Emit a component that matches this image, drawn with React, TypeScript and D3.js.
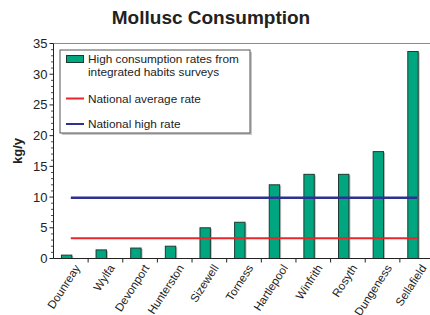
import React from "react";
import * as d3 from "d3";

const categories = ["Dounreay", "Wylfa", "Devonport", "Hunterston", "Sizewell", "Torness", "Hartlepool", "Winfrith", "Rosyth", "Dungeness", "Sellafield"];
const consumption = [0.55, 1.4, 1.7, 2.0, 5.0, 5.9, 12.0, 13.7, 13.7, 17.4, 33.7];
const nationalAverage = 3.3;
const nationalHigh = 9.9;
const yTicks = [0, 5, 10, 15, 20, 25, 30, 35];
const legendLabels = [["High consumption rates from", "integrated habits surveys"], ["National average rate"], ["National high rate"]];

const W = 430, H = 315;
const left = 53.5, right = 434.5, top = 43.5, bottom = 258.5;
const FONT = "'Liberation Sans', Arial, sans-serif";
const GREEN = "#00a67f";
const RED = "#e8262b";
const BLUE = "#2e3191";

export default function App() {
  const x = d3.scaleBand().domain(categories).range([left, right]).paddingInner(0).paddingOuter(0);
  const y = d3.scaleLinear().domain([0, 35]).range([bottom, top]);
  const bw = x.bandwidth();
  const barW = bw * 0.3;
  const center = (c: string) => (x(c) as number) + bw / 2;
  const minor = d3.range(0, 36, 1).filter((v) => v % 5 !== 0);
  const lineX0 = center(categories[0]);
  const lineX1 = center(categories[categories.length - 1]);

  return (
    <svg width={W} height={H} style={{ position: "absolute", left: 0, top: 0, background: "#fff" }} fontFamily={FONT}>
      <rect x={0} y={0} width={W} height={H} fill="#fff" />
      <text x={211} y={24} textAnchor="middle" fontSize={19} fontWeight="bold" fill="#222">Mollusc Consumption</text>
      {/* top frame */}
      <line x1={left} x2={W} y1={top} y2={top} stroke="#8a8a8a" strokeWidth={1.2} />
      {/* bars */}
      {categories.map((c, i) => {
        const bx = center(c) - barW + 1;
        const by = y(consumption[i]);
        const h = bottom - by;
        return (
          <g key={c}>
            <rect x={bx + 1.5} y={by + 1} width={barW} height={h - 1} fill="#bdbdbd" />
            <rect x={bx} y={by} width={barW} height={h} fill={GREEN} stroke="#1d3a31" strokeWidth={1} />
          </g>
        );
      })}
      {/* reference lines */}
      <line x1={lineX0} x2={lineX1} y1={y(nationalAverage)} y2={y(nationalAverage)} stroke={RED} strokeWidth={2.2} />
      <line x1={lineX0} x2={lineX1} y1={y(nationalHigh)} y2={y(nationalHigh)} stroke={BLUE} strokeWidth={2.6} />
      {/* y axis */}
      <line x1={left} x2={left} y1={top} y2={bottom} stroke="#222" strokeWidth={1} />
      {yTicks.map((t) => (
        <g key={t}>
          <line x1={left - 4} x2={left} y1={y(t)} y2={y(t)} stroke="#222" />
          <text x={left - 6} y={y(t)} dy="0.35em" textAnchor="end" fontSize={13} fill="#222">{t}</text>
        </g>
      ))}
      {minor.map((t) => (
        <line key={t} x1={left - 2.5} x2={left} y1={y(t)} y2={y(t)} stroke="#222" strokeWidth={0.8} />
      ))}
      <text transform={`translate(22,${(top + bottom) / 2}) rotate(-90)`} textAnchor="middle" fontSize={13} fontWeight="bold" fill="#222">kg/y</text>
      {/* x axis */}
      <line x1={left} x2={W} y1={bottom} y2={bottom} stroke="#222" strokeWidth={1} />
      {categories.map((c) => (
        <line key={c} x1={(x(c) as number) + bw} x2={(x(c) as number) + bw} y1={bottom} y2={bottom + 4} stroke="#222" />
      ))}
      {categories.map((c) => (
        <text key={c} transform={`translate(${center(c) + 3},${bottom + 5}) rotate(-57)`} textAnchor="end" dy="0.7em" fontSize={11.5} fill="#222">{c}</text>
      ))}
      {/* legend */}
      <rect x={62} y={52} width={190} height={83} fill="#c8c8c8" />
      <rect x={60} y={50} width={190} height={83} fill="#fff" stroke="#555" strokeWidth={1} />
      <rect x={66.5} y={55.5} width={17} height={7} fill={GREEN} stroke="#1d3a31" strokeWidth={1} />
      <text x={88} y={63} fontSize={11.8} fill="#222">{legendLabels[0][0]}</text>
      <text x={88} y={75.5} fontSize={11.8} fill="#222">{legendLabels[0][1]}</text>
      <line x1={66} x2={84} y1={98.5} y2={98.5} stroke={RED} strokeWidth={2} />
      <text x={88} y={102.5} fontSize={11.8} fill="#222">{legendLabels[1][0]}</text>
      <line x1={66} x2={84} y1={124} y2={124} stroke={BLUE} strokeWidth={2} />
      <text x={88} y={128} fontSize={11.8} fill="#222">{legendLabels[2][0]}</text>
    </svg>
  );
}
